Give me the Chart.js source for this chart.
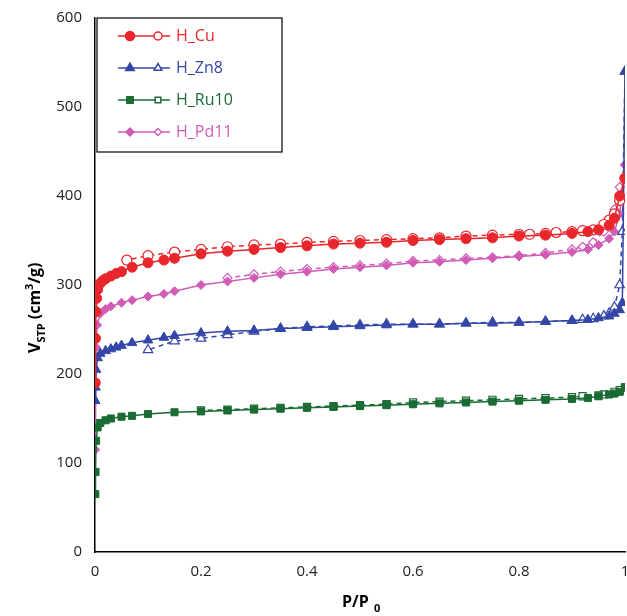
<!DOCTYPE html>
<html lang="en">
<head>
<meta charset="UTF-8">
<title>Isotherms</title>
<script src="https://cdn.jsdelivr.net/npm/chart.js@4"></script>
<style>
  body { margin: 0; background: #fff; overflow: hidden; }
  #wrap { width: 640px; height: 616px; }
</style>
</head>
<body>
<div id="wrap"><canvas id="c" width="640" height="616"></canvas></div>
<script>
// adsorption (filled markers, solid) and desorption (open markers, dashed)
const cuAdsP = [0.0005,0.001,0.002,0.003,0.005,0.01,0.015,0.02,0.03,0.04,0.05,0.07,0.1,0.13,0.15,0.2,0.25,0.3,0.35,0.4,0.45,0.5,0.55,0.6,0.65,0.7,0.75,0.8,0.85,0.9,0.93,0.95,0.97,0.98,0.99,1.0];
const cuAdsV = [190,240,270,285,295,302,305,307,310,313,315,320,325,328,330,335,338,340,342,344,346,347,348,350,351,352,353,355,356,358,360,362,367,375,400,420];
const cuDesP = [1.0,0.99,0.98,0.97,0.96,0.94,0.92,0.9,0.87,0.85,0.82,0.8,0.75,0.7,0.65,0.6,0.55,0.5,0.45,0.4,0.35,0.3,0.25,0.2,0.15,0.1,0.06];
const cuDesV = [420,395,380,373,368,362,361,360,359,358,357,357,356,355,353,352,351,350,349,348,346,345,343,340,337,333,328];

const znAdsP = [0.0005,0.001,0.002,0.005,0.01,0.02,0.03,0.04,0.05,0.07,0.1,0.13,0.15,0.2,0.25,0.3,0.35,0.4,0.45,0.5,0.55,0.6,0.65,0.7,0.75,0.8,0.85,0.9,0.93,0.95,0.97,0.98,0.99,0.995,1.0];
const znAdsV = [170,185,205,218,223,226,228,230,232,235,238,241,243,246,248,249,251,252,253,254,255,256,256,257,257,258,259,260,261,263,265,268,272,280,540];
const znDesP = [1.0,0.995,0.99,0.98,0.97,0.96,0.94,0.92,0.9,0.85,0.8,0.75,0.7,0.65,0.6,0.55,0.5,0.45,0.4,0.35,0.3,0.25,0.2,0.15,0.1];
const znDesV = [540,360,300,275,268,265,262,261,260,259,258,258,257,256,256,256,255,254,253,251,248,244,240,237,227];

const ruAdsP = [0.0005,0.001,0.002,0.005,0.01,0.02,0.03,0.05,0.07,0.1,0.15,0.2,0.25,0.3,0.35,0.4,0.45,0.5,0.55,0.6,0.65,0.7,0.75,0.8,0.85,0.9,0.93,0.95,0.97,0.98,0.99,1.0];
const ruAdsV = [65,90,125,140,145,148,150,152,153,155,157,158,159,160,161,162,163,164,165,166,167,168,169,170,171,172,173,175,177,178,180,185];
const ruDesP = [1.0,0.99,0.98,0.96,0.95,0.92,0.9,0.85,0.8,0.75,0.7,0.65,0.6,0.55,0.5,0.45,0.4,0.35,0.3,0.25,0.2];
const ruDesV = [185,182,180,177,176,175,174,173,172,171,170,169,168,166,165,164,163,162,161,160,159];

const pdAdsP = [0.0005,0.001,0.002,0.004,0.01,0.02,0.03,0.05,0.07,0.1,0.13,0.15,0.2,0.25,0.3,0.35,0.4,0.45,0.5,0.55,0.6,0.65,0.7,0.75,0.8,0.85,0.9,0.93,0.95,0.97,0.98,0.99,1.0];
const pdAdsV = [115,145,230,255,268,273,276,280,283,287,290,293,300,304,308,312,315,318,320,322,325,326,328,330,332,334,337,340,345,352,360,380,435];
const pdDesP = [1.0,0.99,0.98,0.97,0.96,0.94,0.92,0.9,0.85,0.8,0.75,0.7,0.65,0.6,0.55,0.5,0.45,0.4,0.35,0.3,0.25];
const pdDesV = [435,410,385,370,360,348,343,340,336,333,331,330,328,327,324,322,320,318,315,312,308];

const names = ['H_Cu', 'H_Zn8', 'H_Ru10', 'H_Pd11'];
const colors = ['#e8262b', '#3446a8', '#1a6b34', '#d05cb6'];
const shapes = ['circle', 'triangle', 'rect', 'rectRot'];
const sizes = [5, 5.5, 5, 4.5];

const pts = (p, v) => p.map((x, i) => ({ x: x, y: v[i] }));
const groups = [
  [cuAdsP, cuAdsV, cuDesP, cuDesV],
  [znAdsP, znAdsV, znDesP, znDesV],
  [ruAdsP, ruAdsV, ruDesP, ruDesV],
  [pdAdsP, pdAdsV, pdDesP, pdDesV]
];

const datasets = [];
groups.forEach((g, i) => {
  datasets.push({
    label: names[i] + ' ads', data: pts(g[0], g[1]),
    borderColor: colors[i], backgroundColor: colors[i], borderWidth: 1.5,
    pointStyle: shapes[i], pointRadius: sizes[i], pointBorderWidth: 1
  });
  datasets.push({
    label: names[i] + ' des', data: pts(g[2], g[3]),
    borderColor: colors[i], backgroundColor: '#fff', borderWidth: 1.5, borderDash: [5, 4],
    pointStyle: shapes[i], pointRadius: sizes[i], pointBorderWidth: 1.2
  });
});

// legend box, axis titles
const extras = {
  id: 'extras',
  afterDraw(chart) {
    const ctx = chart.ctx;
    ctx.save();
    ctx.strokeStyle = '#000';
    ctx.lineWidth = 1.2;
    ctx.fillStyle = '#fff';
    ctx.fillRect(97, 18, 185, 134);
    ctx.strokeRect(97, 18, 185, 134);
    ctx.font = '16px "Open Sans", sans-serif';
    ctx.textBaseline = 'middle';
    names.forEach((n, i) => {
      const y = 36 + i * 32;
      const r = sizes[i] * 0.9;
      ctx.strokeStyle = colors[i];
      ctx.lineWidth = 1.5;
      ctx.beginPath(); ctx.moveTo(118, y); ctx.lineTo(170, y); ctx.stroke();
      ctx.fillStyle = colors[i];
      Chart.helpers.drawPoint(ctx, { pointStyle: shapes[i], radius: r, borderWidth: 1 }, 130, y);
      ctx.fillStyle = '#fff';
      Chart.helpers.drawPoint(ctx, { pointStyle: shapes[i], radius: r - 0.5, borderWidth: 1 }, 158, y);
      ctx.fillStyle = colors[i];
      ctx.fillText(n, 176, y);
    });
    // x title
    ctx.fillStyle = '#000';
    ctx.font = 'bold 16px "Open Sans", sans-serif';
    ctx.textBaseline = 'alphabetic';
    ctx.fillText('P/P', 342, 607);
    ctx.font = 'bold 11px "Open Sans", sans-serif';
    ctx.fillText('0', 374, 612);
    // y title
    ctx.translate(40, 285);
    ctx.rotate(-Math.PI / 2);
    ctx.font = 'bold 16px "Open Sans", sans-serif';
    let x = -68;
    ctx.fillText('V', x, 0); x += ctx.measureText('V').width;
    ctx.font = 'bold 11px "Open Sans", sans-serif';
    ctx.fillText('STP', x, 5); x += ctx.measureText('STP').width + 4;
    ctx.font = 'bold 16px "Open Sans", sans-serif';
    ctx.fillText('(cm', x, 0); x += ctx.measureText('(cm').width;
    ctx.font = 'bold 11px "Open Sans", sans-serif';
    ctx.fillText('3', x, -7); x += ctx.measureText('3').width;
    ctx.font = 'bold 16px "Open Sans", sans-serif';
    ctx.fillText('/g)', x, 0);
    ctx.restore();
  }
};

new Chart(document.getElementById('c'), {
  type: 'line',
  data: { datasets: datasets },
  options: {
    responsive: false,
    animation: false,
    layout: { padding: { top: 18, right: 15, left: 0, bottom: 0 } },
    plugins: { legend: { display: false }, tooltip: { enabled: false } },
    scales: {
      x: {
        type: 'linear', min: 0, max: 1,
        grid: { display: false, drawTicks: true, tickLength: 5, tickColor: '#000' },
        border: { color: '#000', width: 1.5 },
        ticks: { stepSize: 0.2, color: '#222', font: { size: 15, family: 'Open Sans' }, padding: 6,
          callback: v => v === 0 ? '0' : (v === 1 ? '1' : v.toFixed(1)) },
        afterFit: s => { s.height = 64; }
      },
      y: {
        min: 0, max: 600,
        grid: { display: false, tickLength: 5, tickColor: '#000' },
        border: { color: '#000', width: 1.5 },
        ticks: { stepSize: 100, color: '#222', font: { size: 15, family: 'Open Sans' }, padding: 8 },
        afterFit: s => { s.width = 95; }
      }
    }
  },
  plugins: [extras]
});
</script>
</body>
</html>
